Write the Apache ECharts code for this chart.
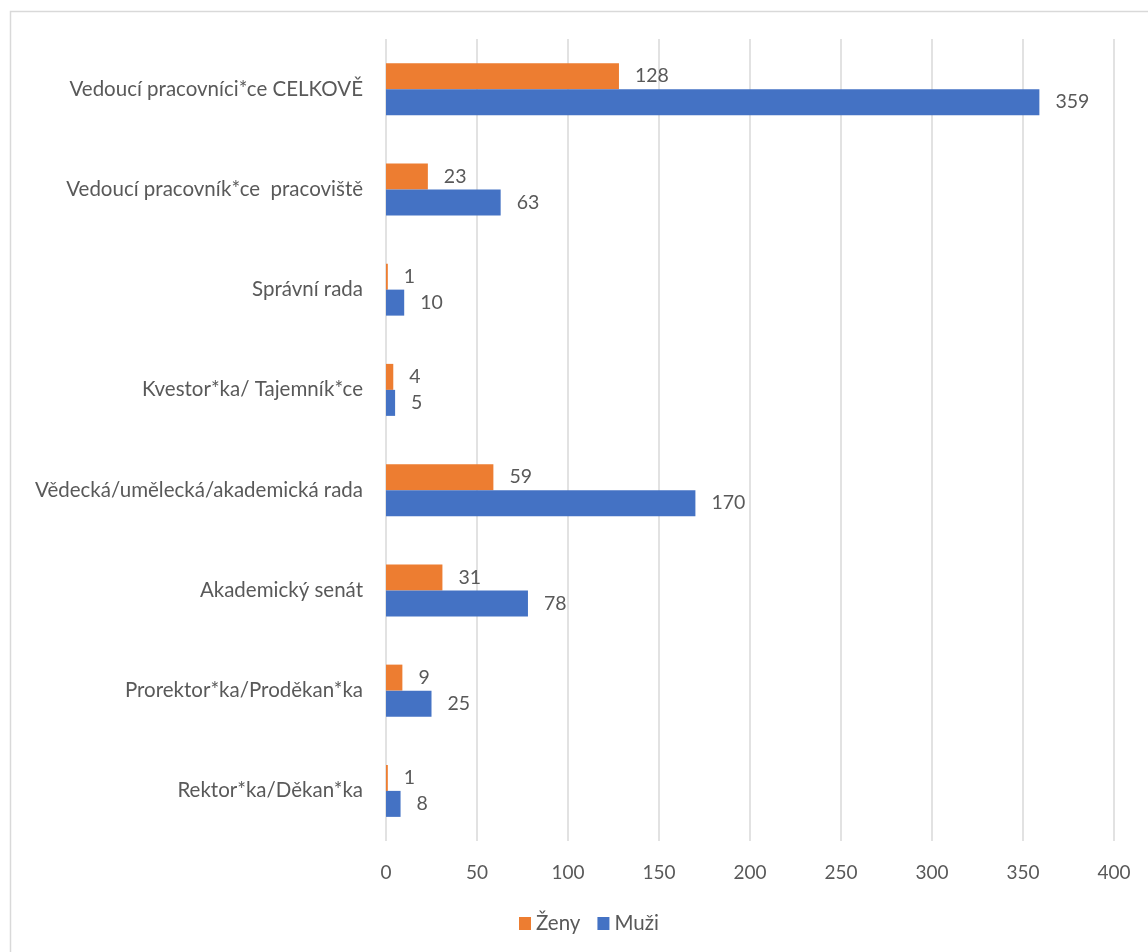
<!DOCTYPE html>
<html>
<head>
<meta charset="utf-8">
<script src="https://cdn.jsdelivr.net/npm/echarts@6/dist/echarts.min.js"></script>
<style>
  html, body { margin: 0; padding: 0; background: #fff; }
  #chart { width: 1148px; height: 952px; }
</style>
</head>
<body>
<div id="chart"></div>
<script>
// Categories listed bottom to top, as the category axis runs upward
const categories = [
  'Rektor*ka/Děkan*ka',
  'Prorektor*ka/Proděkan*ka',
  'Akademický senát',
  'Vědecká/umělecká/akademická rada',
  'Kvestor*ka/ Tajemník*ce',
  'Správní rada',
  'Vedoucí pracovník*ce  pracoviště',
  'Vedoucí pracovníci*ce CELKOVĚ'
];
const zeny = [1, 9, 31, 59, 4, 1, 23, 128];
const muzi = [8, 25, 78, 170, 5, 10, 63, 359];
const xTicks = { min: 0, max: 400, interval: 50 };

const FONT = 'Lato';
const TEXT = '#595959';

const chart = echarts.init(document.getElementById('chart'), null, { renderer: 'canvas' });

const valueLabel = {
  show: true,
  position: 'right',
  distance: 16,
  color: TEXT,
  fontFamily: FONT,
  fontSize: 19.5
};

chart.setOption({
  animation: false,
  backgroundColor: '#ffffff',
  graphic: [{
    type: 'rect',
    silent: true,
    shape: { x: 10.5, y: 11.5, width: 1300, height: 1100 },
    style: { fill: 'none', stroke: '#d9d9d9', lineWidth: 1.5 }
  }],
  grid: { left: 386, right: 34, top: 39, bottom: 111, containLabel: false },
  legend: {
    data: ['Ženy', 'Muži'],
    left: 514,
    top: 908,
    icon: 'rect',
    itemWidth: 12,
    itemHeight: 13,
    itemGap: 17,
    textStyle: { color: TEXT, fontFamily: FONT, fontSize: 20.5 }
  },
  xAxis: {
    type: 'value',
    min: xTicks.min,
    max: xTicks.max,
    interval: xTicks.interval,
    axisLine: { show: false },
    axisTick: { show: false },
    axisLabel: { color: TEXT, fontFamily: FONT, fontSize: 19, margin: 22 },
    splitLine: { show: true, lineStyle: { color: '#d9d9d9', width: 1.5 } }
  },
  yAxis: {
    type: 'category',
    data: categories,
    axisLine: { show: false },
    axisTick: { show: false },
    axisLabel: { color: TEXT, fontFamily: FONT, fontSize: 20.5, margin: 23 }
  },
  series: [
    {
      name: 'Ženy',
      type: 'bar',
      data: zeny,
      barWidth: 26,
      barGap: '0%',
      itemStyle: { color: '#ed7d31' },
      label: valueLabel
    },
    {
      name: 'Muži',
      type: 'bar',
      data: muzi,
      barWidth: 26,
      barGap: '0%',
      itemStyle: { color: '#4472c4' },
      label: valueLabel
    }
  ]
});
</script>
</body>
</html>
